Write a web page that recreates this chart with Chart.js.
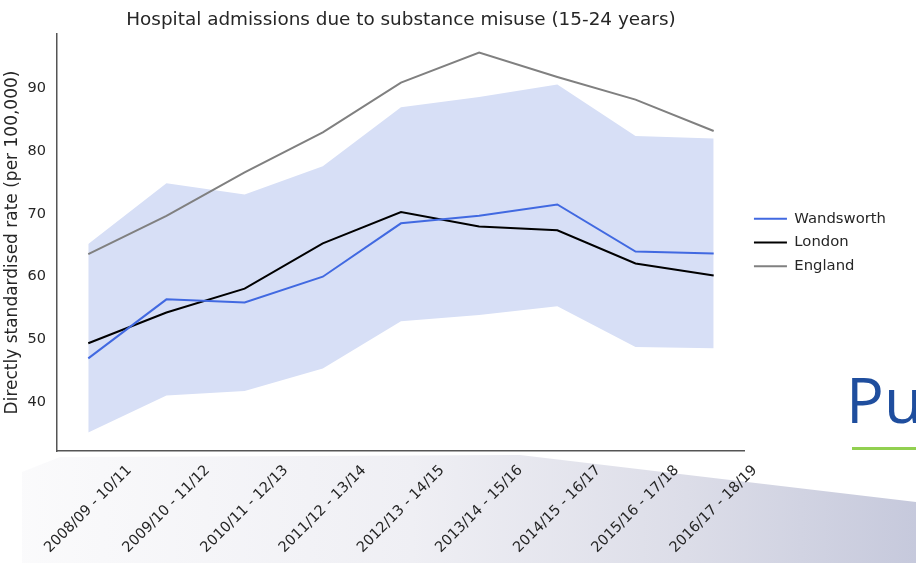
<!DOCTYPE html>
<html lang="en">
<head>
  <meta charset="UTF-8">
  <title>Hospital admissions due to substance misuse (15-24 years)</title>
  <script src="https://cdn.jsdelivr.net/npm/chart.js"></script>
  <style>
    body {
      margin: 0;
      background: #fff;
      font-family: 'DejaVu Sans', sans-serif;
    }
    #wrap {
      position: relative;
      width: 916px;
      height: 563px;
      overflow: hidden;
    }
    .wedge {
      position: absolute;
      left: 0;
      top: 0;
      width: 916px;
      height: 563px;
      background: linear-gradient(to right, #fbfbfc 0%, #efeff4 45%, #dcdde8 75%, #c6c9dc 100%);
      clip-path: polygon(22px 472px, 60px 457px, 520px 455px, 916px 502px, 916px 563px, 22px 563px);
    }
    canvas {
      position: absolute;
      left: 0;
      top: 0;
    }
    .pu {
      position: absolute;
      left: 846px;
      top: 367px;
      font-family: 'Open Sans', sans-serif;
      font-size: 63px;
      line-height: 63px;
      color: #1f4e9e;
      white-space: nowrap;
    }
    .rule {
      position: absolute;
      left: 852px;
      top: 447px;
      width: 64px;
      height: 3px;
      background: #92d050;
    }
  </style>
</head>
<body>
  <div id="wrap">
    <div class="wedge"></div>
    <div class="pu">Pu</div>
    <div class="rule"></div>
    <canvas id="admissionsChart" width="916" height="563"></canvas>
  </div>
  <script>
    const periods = [
      '2008/09 - 10/11', '2009/10 - 11/12', '2010/11 - 12/13', '2011/12 - 13/14', '2012/13 - 14/15',
      '2013/14 - 15/16', '2014/15 - 16/17', '2015/16 - 17/18', '2016/17 - 18/19'
    ];
    const wandsworth = [47.0, 56.4, 55.9, 60.0, 68.5, 69.7, 71.5, 64.0, 63.7];
    const london = [49.4, 54.3, 58.1, 65.3, 70.3, 68.0, 67.4, 62.1, 60.2];
    const england = [63.6, 69.7, 76.6, 83.0, 90.9, 95.7, 91.8, 88.2, 83.2];
    const ciUpper = [65.2, 74.9, 73.1, 77.6, 87.0, 88.6, 90.6, 82.4, 82.0];
    const ciLower = [35.2, 41.1, 41.8, 45.4, 52.9, 53.9, 55.3, 48.8, 48.6];
    const yTicks = [40, 50, 60, 70, 80, 90];

    const textColor = '#262626';
    const pts = arr => arr.map((y, i) => ({ x: i, y: y }));

    // rotated labels centred under each point, like the original
    const xTickLabels = {
      id: 'xTickLabels',
      afterDraw(chart) {
        const sx = chart.scales.x;
        const ctx = chart.ctx;
        const size = 14.5;
        ctx.save();
        ctx.font = size + 'px "DejaVu Sans"';
        ctx.fillStyle = textColor;
        ctx.textAlign = 'center';
        ctx.textBaseline = 'middle';
        periods.forEach((p, i) => {
          const w = ctx.measureText(p).width;
          const half = (w + size * 1.16) * Math.SQRT1_2 / 2;
          ctx.save();
          ctx.translate(sx.getPixelForValue(i), chart.chartArea.bottom + 11 + half);
          ctx.rotate(-Math.PI / 4);
          ctx.fillText(p, 0, 0);
          ctx.restore();
        });
        ctx.restore();
      }
    };

    new Chart(document.getElementById('admissionsChart'), {
      type: 'line',
      data: {
        datasets: [
          { label: 'Wandsworth', data: pts(wandsworth), borderColor: '#4169e1', borderWidth: 2, order: 0 },
          { label: 'London', data: pts(london), borderColor: '#000000', borderWidth: 2, order: 0 },
          { label: 'England', data: pts(england), borderColor: '#808080', borderWidth: 2, order: 0 },
          { label: 'upper', data: pts(ciUpper), borderWidth: 0, borderColor: 'rgba(0,0,0,0)',
            backgroundColor: '#d7dff6', fill: '+1', order: 1 },
          { label: 'lower', data: pts(ciLower), borderWidth: 0, borderColor: 'rgba(0,0,0,0)', fill: false, order: 1 }
        ]
      },
      options: {
        responsive: false,
        animation: false,
        layout: { padding: { left: 0, top: 0, right: 20, bottom: 92 } },
        elements: {
          point: { radius: 0, hoverRadius: 0 },
          line: { tension: 0 }
        },
        scales: {
          x: {
            type: 'linear',
            min: -0.4,
            max: 8.4,
            afterFit: scale => { scale.height = 20; },
            grid: { display: false, drawTicks: false },
            ticks: { display: false },
            border: { display: true, color: '#555555', width: 1.5 }
          },
          y: {
            min: 32.25,
            max: 98.65,
            afterBuildTicks: scale => { scale.ticks = yTicks.map(v => ({ value: v })); },
            afterFit: scale => { scale.width = 57; },
            grid: { display: false, drawTicks: false },
            border: { display: true, color: '#555555', width: 1.5 },
            ticks: {
              padding: 11,
              color: textColor,
              font: { family: 'DejaVu Sans', size: 14.5 }
            },
            title: {
              display: true,
              text: 'Directly standardised rate (per 100,000)',
              color: textColor,
              font: { family: 'DejaVu Sans', size: 17 },
              padding: { top: 2.3, bottom: 0 }
            }
          }
        },
        plugins: {
          tooltip: { enabled: false },
          title: {
            display: true,
            fullSize: false,
            text: 'Hospital admissions due to substance misuse (15-24 years)',
            color: textColor,
            font: { family: 'DejaVu Sans', size: 18.4, weight: 'normal' },
            padding: { top: 9, bottom: 2.9 }
          },
          legend: {
            position: 'right',
            fullSize: false,
            align: 'center',
            labels: {
              filter: item => item.datasetIndex < 3,
              usePointStyle: true,
              pointStyle: 'line',
              pointStyleWidth: 33,
              padding: 9,
              color: textColor,
              font: { family: 'DejaVu Sans', size: 14.8 }
            }
          }
        }
      },
      plugins: [xTickLabels]
    });
  </script>
</body>
</html>
